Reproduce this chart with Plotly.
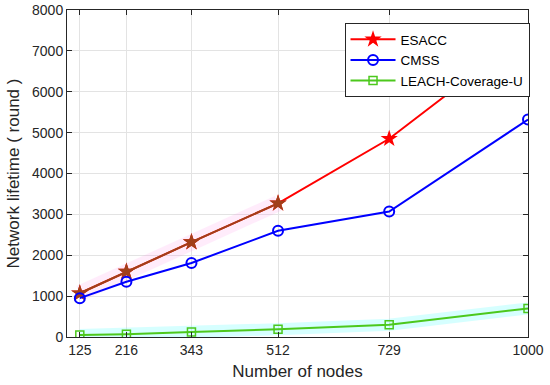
import plotly.graph_objects as go

nodes = [125, 216, 343, 512, 729, 1000]
esacc = [1070, 1600, 2320, 3270, 4850, 7450]
cmss = [950, 1350, 1810, 2600, 3070, 5320]
leach = [50, 70, 120, 190, 300, 700]
x_ticks = [125, 216, 343, 512, 729, 1000]
y_ticks = [0, 1000, 2000, 3000, 4000, 5000, 6000, 7000, 8000]

fig = go.Figure()
# faint highlight bands
fig.add_trace(go.Scatter(x=nodes[:4], y=esacc[:4], mode="lines", showlegend=False, hoverinfo="skip",
                         line=dict(color="rgba(255,120,230,0.14)", width=16)))
fig.add_trace(go.Scatter(x=nodes, y=leach, mode="lines", showlegend=False, hoverinfo="skip",
                         line=dict(color="rgba(120,255,255,0.3)", width=12)))

fig.add_trace(go.Scatter(x=nodes, y=esacc, name="ESACC", mode="lines+markers",
                         line=dict(color="#ff0000", width=2),
                         marker=dict(symbol="star", size=13, color="#ff0000")))
fig.add_trace(go.Scatter(x=nodes[:4], y=esacc[:4], mode="lines+markers", showlegend=False, hoverinfo="skip",
                         line=dict(color="#a0401a", width=2),
                         marker=dict(symbol="star", size=13, color="#a0401a")))
fig.add_trace(go.Scatter(x=nodes, y=cmss, name="CMSS", mode="lines+markers",
                         line=dict(color="#0000ff", width=2),
                         marker=dict(symbol="circle-open", size=10, color="#0000ff", line=dict(width=2))))
fig.add_trace(go.Scatter(x=nodes, y=leach, name="LEACH-Coverage-U", mode="lines+markers",
                         line=dict(color="#4cc81c", width=2),
                         marker=dict(symbol="square-open", size=8, color="#4cc81c", line=dict(width=1.5))))

axis_common = dict(showline=True, linecolor="#262626", linewidth=1, mirror="ticks",
                   ticks="inside", ticklen=5, tickcolor="#262626", automargin=False,
                   showgrid=True, gridcolor="#e3e3e3", gridwidth=1, zeroline=False,
                   tickfont=dict(family="Liberation Sans, Arial", size=14, color="#262626"))

fig.update_layout(
    width=550, height=385,
    margin=dict(l=67, r=22, t=10, b=48),
    paper_bgcolor="white", plot_bgcolor="white",
    font=dict(family="Liberation Sans, Arial", color="#262626"),
    xaxis=dict(range=[100, 1000], tickvals=x_ticks, ticktext=[str(v) for v in x_ticks],
               title=dict(text="Number of nodes", font=dict(size=17), standoff=8), **axis_common),
    yaxis=dict(range=[0, 8000], tickvals=y_ticks,
               title=dict(text="Network lifetime ( round )", font=dict(size=17), standoff=8), **axis_common),
    legend=dict(x=0.602, y=0.96, xanchor="left", yanchor="top",
                bgcolor="white", bordercolor="#262626", borderwidth=1,
                font=dict(size=13.5, color="#000000"), tracegroupgap=0, itemwidth=45),
)

fig.write_html("out.html", config={"displayModeBar": False},
               post_script="document.body.style.margin='0';")
